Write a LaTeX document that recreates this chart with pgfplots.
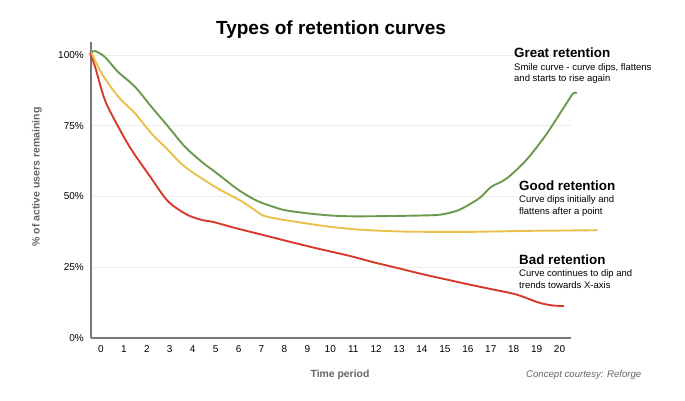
\documentclass[border=0pt]{standalone}
\usepackage{pgfplots}
\pgfplotsset{compat=1.18}
\usepackage{fontspec}
\setmainfont{Liberation Sans}
\definecolor{cgreen}{RGB}{107,154,78}
\definecolor{cyellow}{RGB}{233,192,74}
\definecolor{cred}{RGB}{214,58,42}
\definecolor{caxis}{RGB}{120,120,120}
\definecolor{cgrid}{RGB}{236,236,236}
\definecolor{clabel}{RGB}{100,100,100}
\begin{document}
\begin{tikzpicture}[x=1pt,y=1pt]
\useasboundingbox (0,0) rectangle (685,400);
\begin{axis}[
  at={(91pt,62pt)}, anchor=south west,
  scale only axis, width=480pt, height=296pt,
  xmin=-0.436, xmax=20.5, ymin=0, ymax=104.6,
  clip=false,
  axis x line=bottom, axis y line=left,
  axis line style={draw=caxis, line width=1.4pt, -},
  major tick length=0pt,
  xtick={0,...,20},
  ytick={0,25,50,75,100},
  yticklabels={0\%,25\%,50\%,75\%,100\%},
  ymajorgrids, major grid style={draw=cgrid, line width=0.8pt},
  tick label style={font=\fontsize{10}{12}\selectfont, text=black},
  xticklabel style={yshift=-4pt},
  yticklabel style={xshift=-3.7pt},
  /pgf/number format/assume math mode=true,
  every axis plot/.append style={smooth, tension=0.5, line width=1.9pt, no markers},
]
\addplot[cred] coordinates {
(-0.48,100.7) (-0.26,95.9) (0.17,84.1) (0.75,74.7) (1.34,66.4) (2.2,56.4)
(2.9,48.5) (3.7,43.8) (4.4,41.7) (4.9,41.0) (5.84,38.9) (7.07,36.4)
(8.24,34.0) (9.4,31.7) (10.85,29.0) (11.87,26.8) (13.0,24.6) (14.0,22.6)
(15.0,20.8) (16.0,19.0) (17.0,17.3) (18.1,15.4) (19.1,12.5) (19.7,11.5) (20.2,11.3)
};
\addplot[cyellow] coordinates {
(-0.42,101) (0.03,93.5) (0.75,85.3) (1.48,79.4) (2.2,72.3) (2.93,66.4)
(3.66,60.5) (5.0,53.3) (6.2,48.0) (7.0,43.6) (7.4,42.6) (8.0,41.7)
(8.96,40.5) (10.0,39.3) (11.1,38.4) (12.2,37.9) (13.3,37.6) (14.8,37.5)
(16.0,37.5) (17.5,37.7) (19.0,37.9) (20.5,38.0) (21.65,38.1)
};
\addplot[cgreen] coordinates {
(-0.42,101) (-0.25,101.4) (0.17,99.3) (0.75,94.0) (1.48,88.8) (2.2,81.7)
(2.93,74.7) (3.66,67.6) (4.39,62.3) (5.2,57.3) (6.0,52.3) (6.8,48.5)
(7.5,46.4) (8.0,45.2) (8.96,44.1) (10.0,43.3) (11.0,43.0) (12.6,43.1)
(14.0,43.3) (14.8,43.6) (15.6,45.2) (16.5,49.4) (17.0,53.3) (17.7,56.4)
(18.55,62.9) (19.4,71.7) (20.3,82.9) (20.6,86.5) (20.75,86.5)
};
\end{axis}
\node[anchor=base, font=\fontsize{19}{22}\selectfont\bfseries] at (331,365) {Types of retention curves};
\node[rotate=90, font=\fontsize{10.5}{12}\selectfont\bfseries, text=clabel] at (37,223) {\% of active users remaining};
\node[anchor=base, font=\fontsize{10.4}{12}\selectfont\bfseries, text=clabel] at (340,22.7) {Time period};
\node[anchor=base west, inner sep=0pt, font=\fontsize{9.6}{12}\selectfont\itshape, text=clabel] at (526,23) {Concept courtesy: Reforge};
\node[anchor=base west, inner sep=0pt, font=\fontsize{13.4}{16}\selectfont\bfseries] at (514,342) {Great retention};
\node[anchor=base west, inner sep=0pt, font=\fontsize{9.5}{12}\selectfont] at (514,330) {Smile curve - curve dips, flattens};
\node[anchor=base west, inner sep=0pt, font=\fontsize{9.5}{12}\selectfont] at (514,318.3) {and starts to rise again};
\node[anchor=base west, inner sep=0pt, font=\fontsize{13.4}{16}\selectfont\bfseries] at (519,209.3) {Good retention};
\node[anchor=base west, inner sep=0pt, font=\fontsize{9.5}{12}\selectfont] at (519,197.3) {Curve dips initially and};
\node[anchor=base west, inner sep=0pt, font=\fontsize{9.5}{12}\selectfont] at (519,185.7) {flattens after a point};
\node[anchor=base west, inner sep=0pt, font=\fontsize{13.4}{16}\selectfont\bfseries] at (519,136) {Bad retention};
\node[anchor=base west, inner sep=0pt, font=\fontsize{9.5}{12}\selectfont] at (519,123.3) {Curve continues to dip and};
\node[anchor=base west, inner sep=0pt, font=\fontsize{9.5}{12}\selectfont] at (519,111.7) {trends towards X-axis};
\end{tikzpicture}
\end{document}
